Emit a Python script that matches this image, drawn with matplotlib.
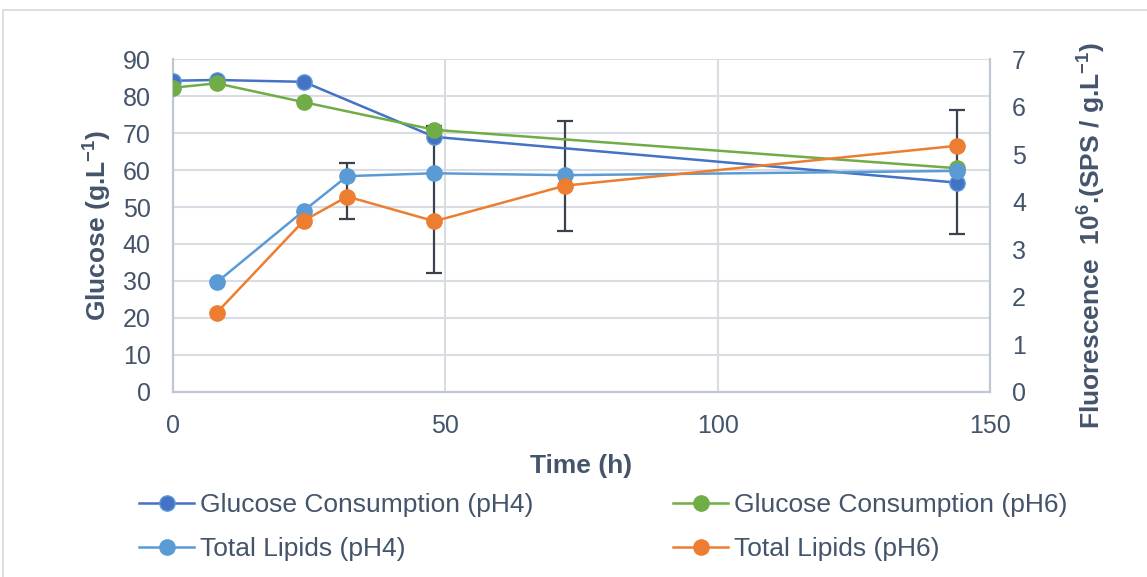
import matplotlib
matplotlib.use("Agg")
import matplotlib.pyplot as plt
from matplotlib.patches import Rectangle

# ---- data ----
glucose_time = [0, 8, 24, 48, 144]
glucose_ph4 = [84.2, 84.4, 83.9, 69.0, 56.6]
glucose_ph6 = [82.3, 83.5, 78.4, 70.9, 60.5]

lipid_time = [8, 24, 32, 48, 72, 144]
lipids_ph4 = [2.30, 3.81, 4.54, 4.60, 4.56, 4.65]
lipids_ph6 = [1.66, 3.60, 4.11, 3.59, 4.34, 5.18]

# fluorescence error bar bounds
err_time = [32, 48, 72, 144]
err_low = [3.63, 2.51, 3.39, 3.33]
err_high = [4.82, 5.60, 5.71, 5.94]

x_ticks = [0, 50, 100, 150]
glucose_ticks = list(range(0, 91, 10))
fluo_ticks = list(range(0, 8))

# ---- style ----
plt.rcParams["font.family"] = ["Liberation Sans", "DejaVu Sans"]
plt.rcParams["mathtext.fontset"] = "custom"
plt.rcParams["mathtext.rm"] = "Liberation Sans:bold"
plt.rcParams["mathtext.bf"] = "Liberation Sans:bold"
plt.rcParams["mathtext.it"] = "Liberation Sans:bold:italic"

TEXT = "#44546A"
GRID = "#D9DDE3"
SPINE = "#BFC7D3"
C_G4 = "#4472C4"
C_G6 = "#70AD47"
C_L4 = "#5B9BD5"
C_L6 = "#ED7D31"
ERR = "#3A4250"
FS = 18
FS_LEG = 19
FS_LAB = 19

fig = plt.figure(figsize=(11.47, 5.77), dpi=100)
fig.patch.set_facecolor("white")

# chart outline
fig.add_artist(Rectangle((3 / 1147, -0.1), 1.2, 1 - 10 / 577 + 0.1,
                         transform=fig.transFigure, fill=False,
                         edgecolor="#D9D9D9", linewidth=1.2))

ax1 = fig.add_axes([173 / 1147, 1 - 391.7 / 577, 817 / 1147, 332.4 / 577])
ax2 = ax1.twinx()

ax1.set_xlim(0, 150)
ax1.set_ylim(0, 90)
ax2.set_ylim(0, 7)

ax1.set_xticks(x_ticks)
ax1.set_yticks(glucose_ticks)
ax2.set_yticks(fluo_ticks)

ax1.grid(True, color=GRID, linewidth=1.5)
ax1.set_axisbelow(True)

for ax in (ax1, ax2):
    ax.spines["top"].set_visible(False)
    for side in ("left", "right", "bottom"):
        ax.spines[side].set_color(SPINE)
        ax.spines[side].set_linewidth(1.5)
    ax.tick_params(length=0, pad=16, labelsize=FS, colors=TEXT)

mk = dict(marker="o", markersize=11, linewidth=1.8, markeredgewidth=1)

# error bars beneath everything
err_mid = [(lo + hi) / 2 for lo, hi in zip(err_low, err_high)]
err_half = [(hi - lo) / 2 for lo, hi in zip(err_low, err_high)]
ax2.errorbar(err_time, err_mid, yerr=err_half, fmt="none", ecolor=ERR,
             elinewidth=1.6, capsize=5.5, capthick=1.6, zorder=2)

h1, = ax2.plot(glucose_time, glucose_ph4, color=C_G4, markerfacecolor=C_G4,
               markeredgecolor=C_L4, transform=ax1.transData, zorder=3,
               label="Glucose Consumption (pH4)", **mk)
h2, = ax2.plot(glucose_time, glucose_ph6, color=C_G6, markerfacecolor=C_G6,
               markeredgecolor=C_G6, transform=ax1.transData, zorder=4,
               label="Glucose Consumption (pH6)", **mk)
h3, = ax2.plot(lipid_time, lipids_ph4, color=C_L4, markerfacecolor=C_L4,
               markeredgecolor=C_L4, zorder=5,
               label="Total Lipids (pH4)", **mk)
h4, = ax2.plot(lipid_time, lipids_ph6, color=C_L6, markerfacecolor=C_L6,
               markeredgecolor=C_L6, zorder=6,
               label="Total Lipids (pH6)", **mk)

ax2.set_ylim(0, 7)
ax1.set_xlim(0, 150)

ax1.set_xlabel("Time (h)", fontsize=FS_LAB, fontweight="bold", color=TEXT)
ax1.xaxis.set_label_coords(0.5, -0.187)
ax1.set_ylabel(r"Glucose (g.L$^{-1}$)", fontsize=FS_LAB, fontweight="bold", color=TEXT)
ax1.yaxis.set_label_coords(-0.072, 0.5)
ax2.set_ylabel(r"Fluorescence  10$^{6}$.(SPS / g.L$^{-1}$)", fontsize=FS_LAB,
               fontweight="bold", color=TEXT)
ax2.yaxis.set_label_coords(1.105, 0.47)

leg = fig.legend([h1, h3, h2, h4],
                 [h1.get_label(), h3.get_label(), h2.get_label(), h4.get_label()],
                 ncol=2, loc="upper left", bbox_to_anchor=(139 / 1147, 1 - 493 / 577),
                 frameon=False, fontsize=FS_LEG, labelcolor=TEXT,
                 handlelength=2.1, handletextpad=0.2, columnspacing=5.3,
                 labelspacing=0.75, borderpad=0, borderaxespad=0)

fig.savefig("out.png", dpi=100, facecolor="white")
